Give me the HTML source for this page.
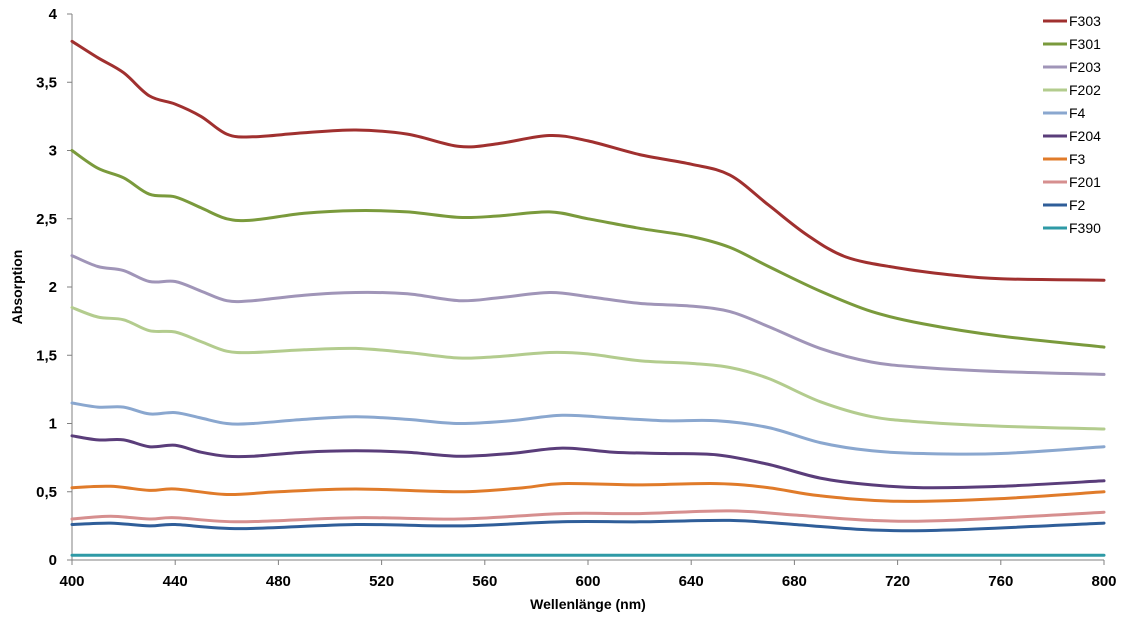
<!DOCTYPE html>
<html><head><meta charset="utf-8"><style>
html,body{margin:0;padding:0;background:#fff;}
svg{display:block;font-family:"Liberation Sans",Arial,sans-serif;}
</style></head><body>
<svg id="c" width="1130" height="617" xmlns="http://www.w3.org/2000/svg">
<rect width="1130" height="617" fill="#fff"/>
<g id="axes" stroke="#808080" stroke-width="1">
<line x1="72" y1="14" x2="72" y2="560"/>
<line x1="72" y1="560" x2="1104" y2="560"/>
</g>
<g id="ticks" stroke="#808080" stroke-width="1"></g>
<g id="labels" font-size="15" font-weight="bold" fill="#000"></g>
<g id="series" fill="none" stroke-width="3" stroke-linejoin="round" stroke-linecap="round"></g>
<text x="22" y="287" font-size="14" font-weight="bold" text-anchor="middle" transform="rotate(-90 22 287)">Absorption</text>
<text x="588" y="609" font-size="14" font-weight="bold" text-anchor="middle">Wellenlänge (nm)</text>
<g id="legend" font-size="14" fill="#000"></g>
</svg>
<script>
var NS="http://www.w3.org/2000/svg";
function X(nm){return 72+(nm-400)*1032/400;}
function Y(v){return 560-v*136.5;}
function el(t,a,p,txt){var e=document.createElementNS(NS,t);for(var k in a)e.setAttribute(k,a[k]);if(txt!=null)e.textContent=txt;p.appendChild(e);return e;}
var tk=document.getElementById('ticks'),lb=document.getElementById('labels');
for(var i=0;i<=8;i++){var v=i*0.5,y=Y(v);el('line',{x1:67,y1:y,x2:72,y2:y},tk);
el('text',{x:57,y:y+5,'text-anchor':'end'},lb,String(v).replace('.',','));}
for(var n=400;n<=800;n+=40){var x=X(n);el('line',{x1:x,y1:560,x2:x,y2:565},tk);
el('text',{x:x,y:586,'text-anchor':'middle'},lb,String(n));}
var S=[
["F303","#a0302f",[400,3.8,410,3.68,420,3.57,430,3.4,440,3.34,450,3.25,460,3.12,470,3.1,490,3.13,510,3.15,530,3.12,550,3.03,565,3.05,585,3.11,600,3.07,620,2.97,640,2.9,655,2.82,670,2.6,685,2.38,700,2.22,720,2.14,740,2.09,760,2.06,800,2.05]],
["F301","#7a9a3c",[400,3.0,410,2.87,420,2.8,430,2.68,440,2.66,450,2.58,460,2.5,470,2.49,490,2.54,510,2.56,530,2.55,550,2.51,565,2.52,585,2.55,600,2.5,620,2.43,640,2.37,655,2.29,670,2.15,690,1.97,710,1.82,730,1.73,760,1.64,800,1.56]],
["F203","#a095b8",[400,2.23,410,2.15,420,2.12,430,2.04,440,2.04,450,1.97,460,1.9,470,1.9,490,1.94,510,1.96,530,1.95,550,1.9,565,1.92,585,1.96,600,1.93,620,1.88,640,1.86,655,1.82,670,1.71,690,1.55,710,1.45,730,1.41,760,1.38,800,1.36]],
["F202","#b3cc8e",[400,1.85,410,1.78,420,1.76,430,1.68,440,1.67,450,1.6,460,1.53,470,1.52,490,1.54,510,1.55,530,1.52,550,1.48,565,1.49,585,1.52,600,1.51,620,1.46,640,1.44,655,1.41,670,1.33,690,1.16,710,1.05,730,1.01,760,0.98,800,0.96]],
["F4","#8aa7cf",[400,1.15,410,1.12,420,1.12,430,1.07,440,1.08,450,1.04,460,1.0,470,1.0,490,1.03,510,1.05,530,1.03,550,1.0,570,1.02,590,1.06,610,1.04,630,1.02,650,1.02,670,0.97,690,0.86,710,0.8,730,0.78,760,0.78,800,0.83]],
["F204","#5a3d7a",[400,0.91,410,0.88,420,0.88,430,0.83,440,0.84,450,0.79,460,0.76,470,0.76,490,0.79,510,0.8,530,0.79,550,0.76,570,0.78,590,0.82,610,0.79,630,0.78,650,0.77,670,0.7,690,0.6,710,0.55,730,0.53,760,0.54,800,0.58]],
["F3","#e07b2a",[400,0.53,415,0.54,430,0.51,440,0.52,460,0.48,480,0.5,510,0.52,550,0.5,575,0.53,590,0.56,620,0.55,650,0.56,670,0.53,690,0.47,720,0.43,760,0.45,800,0.5]],
["F201","#d68f8f",[400,0.3,415,0.32,430,0.3,440,0.31,465,0.28,510,0.31,550,0.3,590,0.34,620,0.34,655,0.36,680,0.33,710,0.29,740,0.29,800,0.35]],
["F2","#2f5e99",[400,0.26,415,0.27,430,0.25,440,0.26,465,0.23,510,0.26,550,0.25,590,0.28,620,0.28,655,0.29,680,0.26,710,0.22,740,0.22,800,0.27]],
["F390","#2e9aa6",[400,0.035,800,0.035]]
];
var sg=document.getElementById('series'),lg=document.getElementById('legend');
function path(d){var p=[];for(var i=0;i<d.length;i+=2)p.push([X(d[i]),Y(d[i+1])]);
var s="M"+p[0][0].toFixed(1)+","+p[0][1].toFixed(1);
for(var i=0;i<p.length-1;i++){var p0=p[i-1]||p[i],p1=p[i],p2=p[i+1],p3=p[i+2]||p2;
var c1x=p1[0]+(p2[0]-p0[0])/6,c1y=p1[1]+(p2[1]-p0[1])/6,c2x=p2[0]-(p3[0]-p1[0])/6,c2y=p2[1]-(p3[1]-p1[1])/6;
s+=" C"+c1x.toFixed(1)+","+c1y.toFixed(1)+" "+c2x.toFixed(1)+","+c2y.toFixed(1)+" "+p2[0].toFixed(1)+","+p2[1].toFixed(1);}
return s;}
for(var j=S.length-1;j>=0;j--){el('path',{d:path(S[j][2]),stroke:S[j][1]},sg);}
for(var j=0;j<S.length;j++){var y=21+j*23;
el('line',{x1:1043,y1:y,x2:1067,y2:y,stroke:S[j][1],'stroke-width':3},lg);
el('text',{x:1069,y:y+5},lg,S[j][0]);}
</script>
</body></html>
